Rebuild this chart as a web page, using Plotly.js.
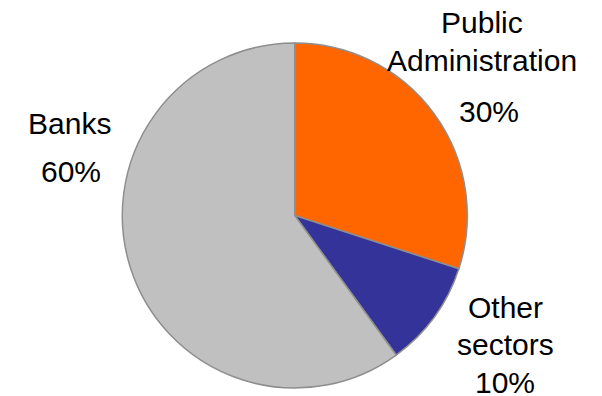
<!DOCTYPE html>
<html>
<head>
<meta charset="utf-8">
<script src="https://cdn.plot.ly/plotly-3.0.1.min.js"></script>
<style>html,body{margin:0;padding:0;background:#fff;}#chart{width:602px;height:396px;}</style>
</head>
<body>
<div id="chart"></div>
<script>
// Data
var labels = ['Public Administration', 'Other sectors', 'Banks'];
var values = [30, 10, 60];
var colors = ['#FF6600', '#333399', '#C0C0C0'];

// Label placement (pixel centre x, baseline y for each line: name lines then percent)
var labelLayout = [
  {lines: [[482, 33], [482, 71]], pct: [489, 122]},
  {lines: [[505, 318], [505, 355]], pct: [505, 393]},
  {lines: [[69, 134]], pct: [71, 182]}
];

var W = 602, H = 396, FS = 30;
var total = values.reduce(function(a, b) { return a + b; }, 0);
var annotations = [];
function addAnn(text, px, baseline) {
  annotations.push({
    text: text, showarrow: false, xref: 'paper', yref: 'paper',
    x: px / W, y: 1 - (baseline - 0.35 * FS) / H,
    xanchor: 'center', yanchor: 'middle',
    font: {family: 'Liberation Sans, Arial, sans-serif', size: FS, color: '#000'}
  });
}
labels.forEach(function(lab, i) {
  var words = lab.split(' ');
  var L = labelLayout[i];
  words.forEach(function(w, j) { addAnn(w, L.lines[j][0], L.lines[j][1]); });
  addAnn(Math.round(values[i] / total * 100) + '%', L.pct[0], L.pct[1]);
});

var trace = {
  type: 'pie',
  labels: labels,
  values: values,
  sort: false,
  direction: 'clockwise',
  rotation: 0,
  textinfo: 'none',
  hoverinfo: 'label+percent',
  marker: {colors: colors, line: {color: '#8E8E8E', width: 1.5}},
  domain: {x: [122.3 / W, 467.3 / W], y: [1 - 388 / H, 1 - 43 / H]},
  showlegend: false
};

var layout = {
  width: W, height: H,
  margin: {l: 0, r: 0, t: 0, b: 0},
  paper_bgcolor: '#fff',
  showlegend: false,
  annotations: annotations
};

Plotly.newPlot('chart', [trace], layout, {displayModeBar: false, staticPlot: true});
</script>
</body>
</html>
